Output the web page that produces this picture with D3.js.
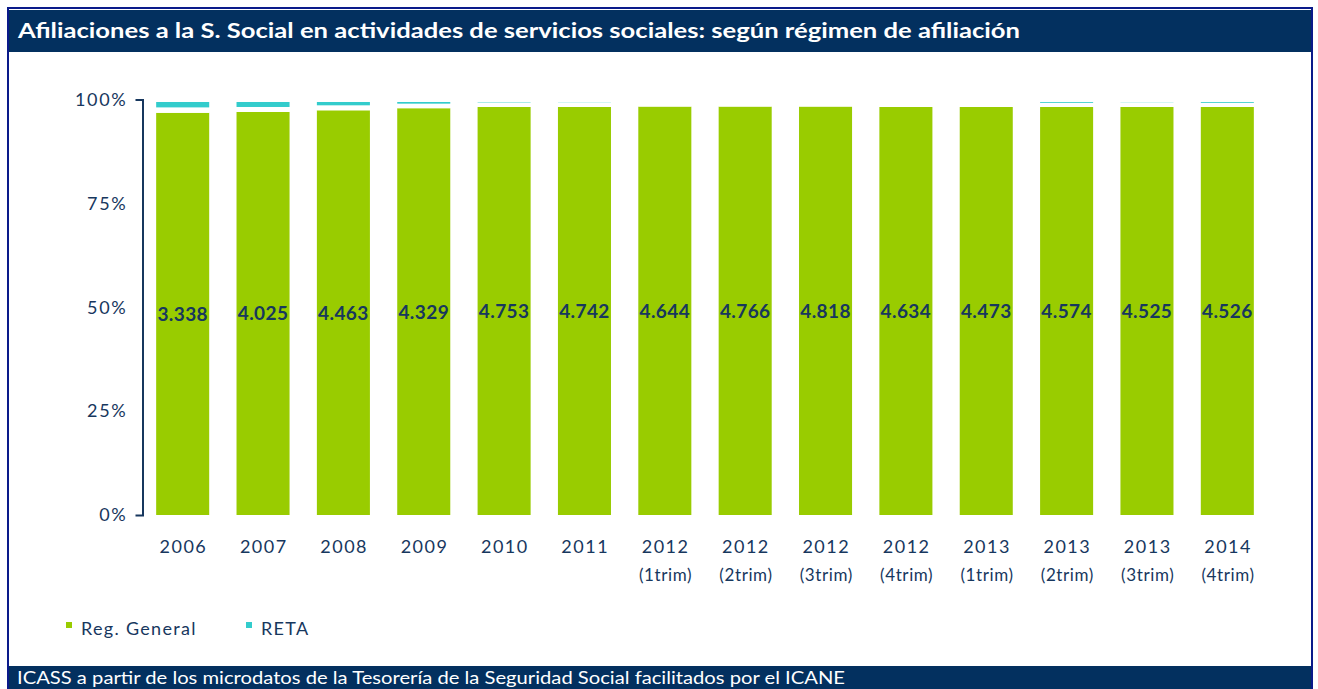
<!DOCTYPE html>
<html>
<head>
<meta charset="utf-8">
<script src="https://cdn.jsdelivr.net/npm/d3@7"></script>
<style>
  body { margin: 0; background: #fff; }
  svg { display: block; font-family: Lato, "DejaVu Sans", sans-serif; }
</style>
</head>
<body>
<svg id="chart" width="1318" height="689"></svg>
<script>
//DATA

var years = ["2006", "2007", "2008", "2009", "2010", "2011", "2012", "2012", "2012", "2012", "2013", "2013", "2013", "2014"];
var periods = ["", "", "", "", "", "", "(1trim)", "(2trim)", "(3trim)", "(4trim)", "(1trim)", "(2trim)", "(3trim)", "(4trim)"];
// % afiliados en cada regimen
var regGeneral = [96.8, 97.0, 97.4, 97.9, 98.2, 98.2, 98.3, 98.3, 98.3, 98.2, 98.2, 98.2, 98.2, 98.2];
var otros      = [1.3, 1.2, 1.2, 1.1, 1.1, 1.1, 1.1, 1.1, 1.1, 1.2, 1.2, 1.0, 1.1, 1.0];
var reta       = [1.3, 1.2, 0.8, 0.4, 0.1, 0.05, 0.0, 0.0, 0.0, 0.0, 0.0, 0.2, 0.05, 0.2];
// afiliados en Reg. General (etiquetas)
var afiliados  = [3338, 4025, 4463, 4329, 4753, 4742, 4644, 4766, 4818, 4634, 4473, 4574, 4525, 4526];
var yTicks = [0, 25, 50, 75, 100];
var seriesNames = ["Reg. General", "Otros", "RETA"];
var legendNames = ["Reg. General", "RETA"];

var navy = "#17375e";
var colors = { "Reg. General": "#99cc00", "Otros": "#ffffff", "RETA": "#33cccc" };

var es = d3.formatLocale({ decimal: ",", thousands: ".", grouping: [3], currency: ["", " €"] });
var fmt = es.format(",d");

var svg = d3.select("#chart");

//FRAME, TITLE AND FOOTER

svg.append("rect")
    .attr("x", 8).attr("y", 8)
    .attr("width", 1304).attr("height", 682)
    .attr("fill", "none")
    .attr("stroke", "#0a1a8a")
    .attr("stroke-width", 2);

svg.append("rect")
    .attr("x", 9).attr("y", 10)
    .attr("width", 1302).attr("height", 42)
    .attr("fill", "#03305f");

svg.append("text")
    .attr("x", 18).attr("y", 38)
    .attr("fill", "#fff")
    .style("font-size", "20px")
    .style("font-weight", "bold")
    .attr("textLength", 1002)
    .attr("lengthAdjust", "spacingAndGlyphs")
    .text("Afiliaciones a la S. Social en actividades de servicios sociales: según régimen de afiliación");

svg.append("rect")
    .attr("x", 9).attr("y", 666)
    .attr("width", 1302).attr("height", 23)
    .attr("fill", "#03305f");

svg.append("text")
    .attr("x", 17).attr("y", 684)
    .attr("fill", "#fff")
    .style("font-size", "17px")
    .attr("textLength", 828)
    .attr("lengthAdjust", "spacingAndGlyphs")
    .text("ICASS a partir de los microdatos de la Tesorería de la Seguridad Social facilitados por el ICANE");

//SCALES

var x = d3.scaleBand()
    .domain(d3.range(years.length))
    .range([142.5, 1267.5])
    .paddingInner(0.34)
    .paddingOuter(0.17);

var y = d3.scaleLinear()
    .domain([0, 100])
    .range([515, 99.5]);

//STACKED BARS

var rows = years.map(function(d, i) {
    return { i: i, "Reg. General": regGeneral[i], "Otros": otros[i], "RETA": reta[i] };
});
var stacked = d3.stack().keys(seriesNames)(rows);

svg.append("g")
    .selectAll("g")
    .data(stacked)
    .enter().append("g")
    .attr("fill", function(d) { return colors[d.key]; })
    .selectAll("rect")
    .data(function(d) { return d; })
    .enter().append("rect")
    .attr("x", function(d) { return x(d.data.i); })
    .attr("y", function(d) { return y(d[1]); })
    .attr("width", x.bandwidth())
    .attr("height", function(d) { return y(d[0]) - y(d[1]); });

//value labels in the Reg. General segment
svg.append("g")
    .selectAll("text")
    .data(stacked[0])
    .enter().append("text")
    .attr("x", function(d) { return x(d.data.i) + x.bandwidth() / 2; })
    .attr("y", function(d) { return (y(d[0]) + y(d[1])) / 2 + 7; })
    .attr("text-anchor", "middle")
    .attr("fill", navy)
    .style("font-size", "19px")
    .style("font-weight", "bold")
    .style("letter-spacing", "0.4px")
    .text(function(d) { return fmt(afiliados[d.data.i]); });

//AXES

var yAxis = svg.append("g")
    .attr("transform", "translate(142.5,0)")
    .call(d3.axisLeft(y)
        .tickValues(yTicks)
        .tickFormat(function(d) { return d + "%"; })
        .tickSizeInner(0)
        .tickSizeOuter(7)
        .tickPadding(15));
yAxis.select(".domain").attr("stroke", navy).attr("stroke-width", 2);
yAxis.selectAll("text")
    .attr("fill", navy)
    .style("font-size", "18px")
    .style("letter-spacing", "1.7px")
    .style("font-family", "Lato, 'DejaVu Sans', sans-serif");

var xAxis = svg.append("g")
    .attr("transform", "translate(0,515)")
    .call(d3.axisBottom(x).tickSize(0).tickFormat(""));
xAxis.select(".domain").remove();
xAxis.selectAll(".tick").each(function(d) {
    var t = d3.select(this).append("text")
        .attr("fill", navy)
        .attr("text-anchor", "middle")
        .style("font-size", "18px")
        .style("letter-spacing", "1.5px")
        .style("font-family", "Lato, 'DejaVu Sans', sans-serif");
    t.append("tspan").attr("x", 0.75).attr("y", 38).text(years[d]);
    if (periods[d] !== "") {
        t.append("tspan").attr("x", 0.75).attr("y", 66).style("font-size", "17px").style("letter-spacing", "0.6px").text(periods[d]);
    }
});

//LEGEND

var legend = svg.append("g")
    .selectAll("g")
    .data(legendNames)
    .enter().append("g")
    .attr("transform", function(d, i) { return "translate(" + (66 + i * 180) + ",622)"; });

legend.append("rect")
    .attr("width", 6).attr("height", 6)
    .attr("fill", function(d) { return colors[d]; });

legend.append("text")
    .attr("x", 15).attr("y", 13)
    .attr("fill", navy)
    .style("font-size", "18px")
    .style("letter-spacing", "1.3px")
    .text(function(d) { return d; });
</script>
</body>
</html>
